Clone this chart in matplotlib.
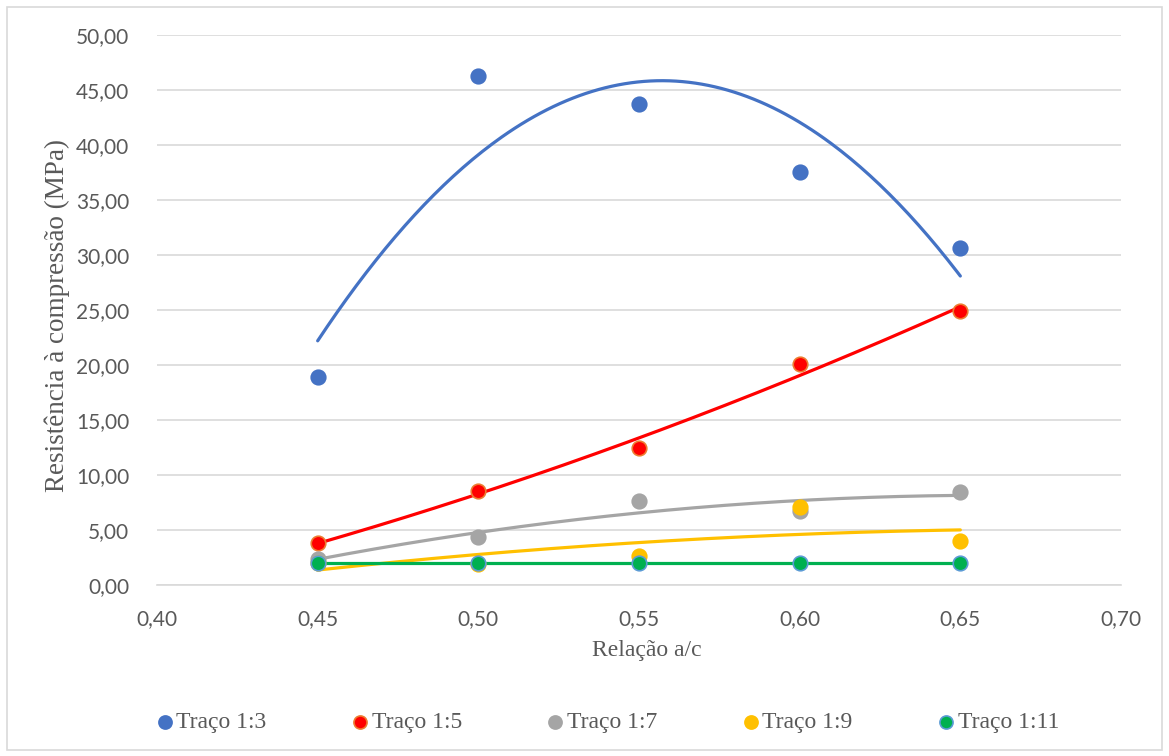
import numpy as np
import matplotlib
matplotlib.use("Agg")
import matplotlib.pyplot as plt
from matplotlib.patches import Rectangle
from matplotlib.ticker import FuncFormatter, MultipleLocator

# Water/cement ratio and compressive strength (MPa) per mix
relacao_ac = [0.45, 0.50, 0.55, 0.60, 0.65]
traco_1_3 = [18.95, 46.28, 43.74, 37.57, 30.67]
traco_1_5 = [3.81, 8.53, 12.43, 20.05, 24.95]
traco_1_7 = [2.36, 4.38, 7.60, 6.69, 8.47]
traco_1_9 = [2.00, 1.90, 2.66, 7.08, 3.97]
traco_1_11 = [2.00, 2.00, 2.00, 2.00, 2.00]

series_names = ["Traço 1:3", "Traço 1:5", "Traço 1:7", "Traço 1:9", "Traço 1:11"]
series_values = [traco_1_3, traco_1_5, traco_1_7, traco_1_9, traco_1_11]
fill_colors = ["#4472C4", "#FF0000", "#A5A5A5", "#FFC000", "#00B050"]
edge_colors = ["#4472C4", "#ED7D31", "#A5A5A5", "#FFC000", "#5B9BD5"]
line_colors = ["#4472C4", "#FF0000", "#A5A5A5", "#FFC000", "#00B050"]

serif = ["Liberation Serif", "DejaVu Serif"]
sans = ["Lato", "DejaVu Sans"]

W, H = 1169, 756
fig = plt.figure(figsize=(W / 100, H / 100), dpi=100)
ax = fig.add_axes([157 / W, 1 - 585 / H, (1121 - 157) / W, (585 - 35) / H])

x = np.array(relacao_ac)
xs = np.linspace(x.min(), x.max(), 200)
handles = []
for name, vals, fc, ec, lc in zip(series_names, series_values, fill_colors, edge_colors, line_colors):
    y = np.array(vals)
    # second-order polynomial trendline for each mix
    coef = np.polyfit(x, y, 2)
    ax.plot(xs, np.polyval(coef, xs), color=lc, lw=2.3, zorder=2, solid_capstyle="round")
    h = ax.scatter(x, y, s=110, facecolor=fc, edgecolor=ec, linewidth=1.2, zorder=3, label=name)
    handles.append(h)

ax.set_xlim(0.40, 0.70)
ax.set_ylim(0, 50)
ax.xaxis.set_major_locator(MultipleLocator(0.05))
ax.yaxis.set_major_locator(MultipleLocator(5))
comma = FuncFormatter(lambda v, p: f"{v:.2f}".replace(".", ","))
ax.xaxis.set_major_formatter(comma)
ax.yaxis.set_major_formatter(comma)
ax.grid(axis="y", color="#D9D9D9", lw=1.2, zorder=0)
ax.set_axisbelow(True)
for s in ["top", "right", "left"]:
    ax.spines[s].set_visible(False)
ax.spines["bottom"].set_color("#D9D9D9")
ax.spines["bottom"].set_linewidth(1.2)
ax.tick_params(length=0, labelsize=15, labelcolor="#595959")
ax.tick_params(axis="x", pad=17)
ax.tick_params(axis="y", pad=20)
for lab in ax.get_xticklabels() + ax.get_yticklabels():
    lab.set_family(sans)

ax.set_xlabel("Relação a/c", family=serif, fontsize=17, color="#595959")
ax.set_ylabel("Resistência à compressão (MPa)", family=serif, fontsize=19.5, color="#595959")
ax.xaxis.set_label_coords((647 - 157) / 964, (585 - 640) / 550)
ax.yaxis.set_label_coords((70 - 157) / 964, (585 - 315) / 550)

leg = fig.legend(handles=handles, labels=series_names, loc="center",
                 bbox_to_anchor=(606 / W, 1 - 722 / H),
                 ncol=5, frameon=False, prop={"family": serif, "size": 17}, handletextpad=0.0,
                 columnspacing=3.45, markerscale=0.9, handlelength=1.0)
for t in leg.get_texts():
    t.set_color("#595959")

fig.patches.append(Rectangle((7 / W, 6 / H), 1 - 14 / W, 1 - 13 / H, transform=fig.transFigure,
                             fill=False, edgecolor="#D9D9D9", lw=1.2))

fig.savefig("out.png", dpi=100)
